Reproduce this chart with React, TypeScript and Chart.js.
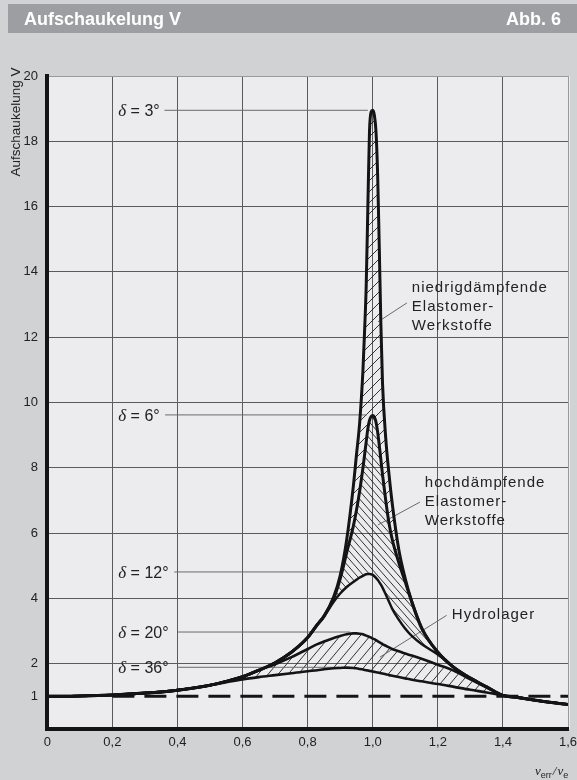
import React, { useEffect, useRef } from "react";
import { Chart, registerables } from "chart.js";

Chart.register(...registerables);

// ---------- data ----------
const eta = [
  0, 0.1, 0.2, 0.3, 0.4, 0.5, 0.55, 0.6, 0.65, 0.7, 0.75, 0.8, 0.83, 0.85, 0.88, 0.9,
  0.92, 0.94, 0.95, 0.96, 0.97, 0.975, 0.98, 0.985, 0.99, 0.995, 1.0, 1.005, 1.01,
  1.015, 1.02, 1.025, 1.03, 1.04, 1.05, 1.06, 1.08, 1.1, 1.12, 1.15, 1.2, 1.25, 1.3,
  1.35, 1.4, 1.45, 1.5, 1.55, 1.6,
];

const v3 = [
  1.0, 1.01, 1.04, 1.1, 1.19, 1.34, 1.46, 1.6, 1.8, 2.03, 2.35, 2.8, 3.2, 3.45, 4.05, 4.7,
  5.8, 7.4, 8.4, 9.4, 11.0, 12.2, 13.6, 16.0, 18.3, 18.9, 18.95, 18.8, 18.3,
  17.0, 14.8, 12.4, 10.6, 8.9, 7.8, 6.9, 5.5, 4.6, 3.9, 3.1, 2.35, 1.88, 1.56,
  1.29, 1.03, 0.96, 0.88, 0.81, 0.75,
];

const v6 = [
  1.0, 1.01, 1.04, 1.1, 1.19, 1.34, 1.46, 1.6, 1.8, 2.03, 2.35, 2.8, 3.2, 3.45, 4.0, 4.6,
  5.4, 6.2, 6.7, 7.3, 8.0, 8.4, 8.8, 9.2, 9.45, 9.57, 9.6, 9.55, 9.4,
  9.1, 8.7, 8.25, 7.8, 7.0, 6.3, 5.8, 5.1, 4.5, 3.9, 3.1, 2.35, 1.88, 1.56,
  1.29, 1.03, 0.96, 0.88, 0.81, 0.75,
];

const v12 = [
  1.0, 1.01, 1.04, 1.1, 1.19, 1.34, 1.46, 1.6, 1.8, 2.03, 2.35, 2.8, 3.2, 3.45, 3.9, 4.15,
  4.35, 4.5, 4.57, 4.64, 4.69, 4.72, 4.74, 4.75, 4.75, 4.74, 4.72, 4.68, 4.63,
  4.57, 4.5, 4.42, 4.33, 4.12, 3.9, 3.68, 3.35, 3.07, 2.85, 2.6, 2.28, 1.88, 1.56,
  1.29, 1.03, 0.96, 0.88, 0.81, 0.75,
];

const v20 = [
  1.0, 1.01, 1.04, 1.1, 1.19, 1.34, 1.46, 1.6, 1.8, 1.98, 2.2, 2.45, 2.6, 2.68, 2.79, 2.85,
  2.9, 2.93, 2.93, 2.92, 2.9, 2.88, 2.86, 2.84, 2.82, 2.8, 2.77, 2.75, 2.72,
  2.69, 2.66, 2.63, 2.6, 2.55, 2.5, 2.45, 2.38, 2.31, 2.25, 2.15, 1.97, 1.78, 1.52,
  1.27, 1.03, 0.96, 0.88, 0.81, 0.75,
];

const v36 = [
  1.0, 1.01, 1.04, 1.1, 1.19, 1.34, 1.43, 1.52, 1.59, 1.65, 1.71, 1.77, 1.8, 1.83, 1.86, 1.87,
  1.88, 1.87, 1.86, 1.84, 1.82, 1.81, 1.8, 1.79, 1.78, 1.77, 1.76, 1.75, 1.74,
  1.73, 1.72, 1.71, 1.7, 1.68, 1.65, 1.63, 1.59, 1.55, 1.51, 1.46, 1.38, 1.29, 1.2,
  1.12, 1.03, 0.96, 0.88, 0.81, 0.75,
];

const refLineX = [0.2, 1.6];
const refLineY = [1, 1];

const xTicks = [0, 0.2, 0.4, 0.6, 0.8, 1.0, 1.2, 1.4, 1.6];
const yTicks = [1, 2, 4, 6, 8, 10, 12, 14, 16, 18, 20];

const deltaLabels = ["3°", "6°", "12°", "20°", "36°"];
const deltaLevels = [18.95, 9.62, 4.81, 2.97, 1.89];
const deltaLeaderFrom = [0.36, 0.362, 0.39, 0.4, 0.4];
const deltaLeaderTo = [0.985, 0.982, 0.9, 0.93, 0.9];

const noteTexts = [
  ["niedrigdämpfende", "Elastomer-", "Werkstoffe"],
  ["hochdämpfende", "Elastomer-", "Werkstoffe"],
  ["Hydrolager"],
];
const noteAnchorX = [1.12, 1.16, 1.243];
const noteAnchorY = [13.38, 7.4, 3.36];
const noteLeaderFromX = [1.105, 1.145, 1.227];
const noteLeaderFromY = [13.05, 6.95, 3.48];
const noteLeaderToX = [1.016, 1.016, 1.022];
const noteLeaderToY = [12.47, 6.25, 2.2];

const deltaTextX = 0.218;

// ---------- styling ----------
const SANS = '"Liberation Sans", Arial, Helvetica, sans-serif';
const SERIF = '"Liberation Serif", "DejaVu Serif", serif';
const INK = "#141414";

function makeHatch(w: number, h: number, dir: string, lw: number) {
  const c = document.createElement("canvas");
  c.width = w;
  c.height = h;
  const g = c.getContext("2d") as CanvasRenderingContext2D;
  g.strokeStyle = "#1c1c1c";
  g.lineWidth = lw;
  g.beginPath();
  if (dir === "/") {
    g.moveTo(0, h); g.lineTo(w, 0);
    g.moveTo(-w, h); g.lineTo(0, 0);
    g.moveTo(w, h); g.lineTo(2 * w, 0);
  } else {
    g.moveTo(0, 0); g.lineTo(w, h);
    g.moveTo(-w, 0); g.lineTo(0, h);
    g.moveTo(w, 0); g.lineTo(2 * w, h);
  }
  g.stroke();
  return g.createPattern(c, "repeat") as CanvasPattern;
}

const pts = (ys: number[]) => eta.map((x, i) => ({ x, y: ys[i] }));

const backgroundPlugin = {
  id: "bgPanel",
  beforeDraw(chart: any) {
    const { ctx, chartArea: a } = chart;
    ctx.save();
    ctx.fillStyle = "#d1d2d4";
    ctx.fillRect(0, 0, chart.width, chart.height);
    ctx.fillStyle = "#9d9ea1";
    ctx.fillRect(8, 4, 569, 29);
    ctx.fillStyle = "#ffffff";
    ctx.font = `bold 18px ${SANS}`;
    ctx.textBaseline = "alphabetic";
    ctx.textAlign = "left";
    ctx.fillText("Aufschaukelung V", 24, 25);
    ctx.textAlign = "right";
    ctx.fillText("Abb. 6", 561, 25);
    ctx.fillStyle = "#ececee";
    ctx.fillRect(a.left, a.top, a.right - a.left + 2, a.bottom - a.top);
    ctx.restore();
  },
};

const textPlugin = {
  id: "texts",
  afterDraw(chart: any) {
    const { ctx } = chart;
    const xs = chart.scales.x;
    const ys = chart.scales.y;
    ctx.save();
    ctx.fillStyle = "#222";
    // y-axis title
    ctx.save();
    ctx.translate(16, 122);
    ctx.rotate(-Math.PI / 2);
    ctx.font = `13.5px ${SANS}`;
    ctx.textAlign = "center";
    ctx.textBaseline = "middle";
    ctx.fillText("Aufschaukelung V", 0, 0);
    ctx.restore();

    // delta labels
    ctx.textAlign = "left";
    ctx.textBaseline = "alphabetic";
    deltaLabels.forEach((lab, i) => {
      let x = xs.getPixelForValue(deltaTextX);
      const y = ys.getPixelForValue(deltaLevels[i]) + 6;
      ctx.font = `italic 17px ${SERIF}`;
      ctx.fillText("δ", x, y);
      x += ctx.measureText("δ").width;
      ctx.font = `16px ${SANS}`;
      ctx.fillText(" = " + lab, x, y);
    });

    // notes
    ctx.font = `15px ${SANS}`;
    (ctx as any).letterSpacing = "1px";
    noteTexts.forEach((lines, i) => {
      const x = xs.getPixelForValue(noteAnchorX[i]);
      const y0 = ys.getPixelForValue(noteAnchorY[i]);
      lines.forEach((t, j) => ctx.fillText(t, x, y0 + j * 19));
    });
    (ctx as any).letterSpacing = "0px";

    // x-axis title  v_err / v_e
    let x = 535;
    const y = 775;
    ctx.font = `italic 13px ${SERIF}`;
    ctx.fillText("ν", x, y);
    x += ctx.measureText("ν").width;
    ctx.font = `9px ${SANS}`;
    ctx.fillText("err", x, y + 3);
    x += ctx.measureText("err").width + 1;
    ctx.font = `italic 13px ${SERIF}`;
    ctx.fillText("/", x, y);
    x += ctx.measureText("/").width + 1;
    ctx.fillText("ν", x, y);
    x += ctx.measureText("ν").width;
    ctx.font = `9px ${SANS}`;
    ctx.fillText("e", x, y + 3);
    ctx.restore();
  },
};

export default function App() {
  const ref = useRef<HTMLCanvasElement | null>(null);

  useEffect(() => {
    if (!ref.current) return;
    const hatchLow = makeHatch(11, 11, "/", 0.9);
    const hatchHigh = makeHatch(7, 8, "\\", 0.9);
    const hatchHydro = makeHatch(10, 12, "/", 0.9);

    const curve = (ys: number[], width: number, extra: any = {}) => ({
      data: pts(ys),
      borderColor: INK,
      borderWidth: width,
      pointRadius: 0,
      cubicInterpolationMode: "monotone",
      fill: false,
      ...extra,
    });

    const leader = (x1: number, y1: number, x2: number, y2: number) => ({
      data: [
        { x: x1, y: y1 },
        { x: x2, y: y2 },
      ],
      borderColor: "#6a6a6a",
      borderWidth: 1,
      pointRadius: 0,
      tension: 0,
      fill: false,
    });

    const datasets: any[] = [
      curve(v3, 3, { fill: 1, backgroundColor: hatchLow }),
      curve(v6, 3, { fill: 2, backgroundColor: hatchHigh }),
      curve(v12, 2.5),
      curve(v20, 2.6, { fill: 4, backgroundColor: hatchHydro }),
      curve(v36, 2.6),
      {
        data: refLineX.map((x, i) => ({ x, y: refLineY[i] })),
        borderColor: INK,
        borderWidth: 3,
        borderDash: [22, 10],
        pointRadius: 0,
        fill: false,
      },
    ];
    deltaLabels.forEach((_, i) =>
      datasets.push(leader(deltaLeaderFrom[i], deltaLevels[i], deltaLeaderTo[i], deltaLevels[i]))
    );
    noteTexts.forEach((_, i) =>
      datasets.push(
        leader(noteLeaderFromX[i], noteLeaderFromY[i], noteLeaderToX[i], noteLeaderToY[i])
      )
    );

    const chart = new Chart(ref.current, {
      type: "line",
      data: { datasets },
      plugins: [backgroundPlugin, textPlugin],
      options: {
        responsive: false,
        animation: false,
        devicePixelRatio: 1,
        layout: { padding: { top: 76, right: 9, bottom: 0, left: 0 } },
        plugins: {
          legend: { display: false },
          tooltip: { enabled: false },
          filler: { drawTime: "beforeDatasetsDraw" },
        } as any,
        scales: {
          x: {
            type: "linear",
            min: 0,
            max: 1.6,
            afterBuildTicks: (s: any) => {
              s.ticks = xTicks.map((v) => ({ value: v }));
            },
            afterFit: (s: any) => {
              s.height = 51;
              s.paddingLeft = 0;
              s.paddingRight = 0;
            },
            ticks: {
              autoSkip: false,
              maxRotation: 0,
              padding: 6,
              color: "#222",
              font: { family: SANS, size: 13 },
              callback: (v: any) =>
                Number(v) === 0 ? "0" : Number(v).toFixed(1).replace(".", ","),
            },
            grid: {
              drawTicks: false,
              lineWidth: 1,
              color: (c: any) =>
                c.tick && c.tick.value === 0
                  ? "rgba(0,0,0,0)"
                  : c.tick && c.tick.value === 1.6
                  ? "#9a9a9a"
                  : "#5a5a5a",
            },
            border: { color: INK, width: 4 },
          },
          y: {
            type: "linear",
            min: 0,
            max: 20,
            afterBuildTicks: (s: any) => {
              s.ticks = yTicks.map((v) => ({ value: v }));
            },
            afterFit: (s: any) => {
              s.width = 47.3;
              s.paddingTop = 0;
              s.paddingBottom = 0;
            },
            ticks: {
              padding: 9.3,
              color: "#222",
              font: { family: SANS, size: 13 },
            },
            grid: {
              drawTicks: false,
              lineWidth: 1,
              color: (c: any) =>
                c.tick && c.tick.value === 1
                  ? "rgba(0,0,0,0)"
                  : c.tick && c.tick.value === 20
                  ? "#9a9a9a"
                  : "#5a5a5a",
            },
            border: { color: INK, width: 4 },
          },
        },
      } as any,
    });
    return () => chart.destroy();
  }, []);

  return (
    <div style={{ position: "absolute", left: 0, top: 0, width: 577, height: 780 }}>
      <canvas ref={ref} width={577} height={780} style={{ display: "block" }} />
    </div>
  );
}
